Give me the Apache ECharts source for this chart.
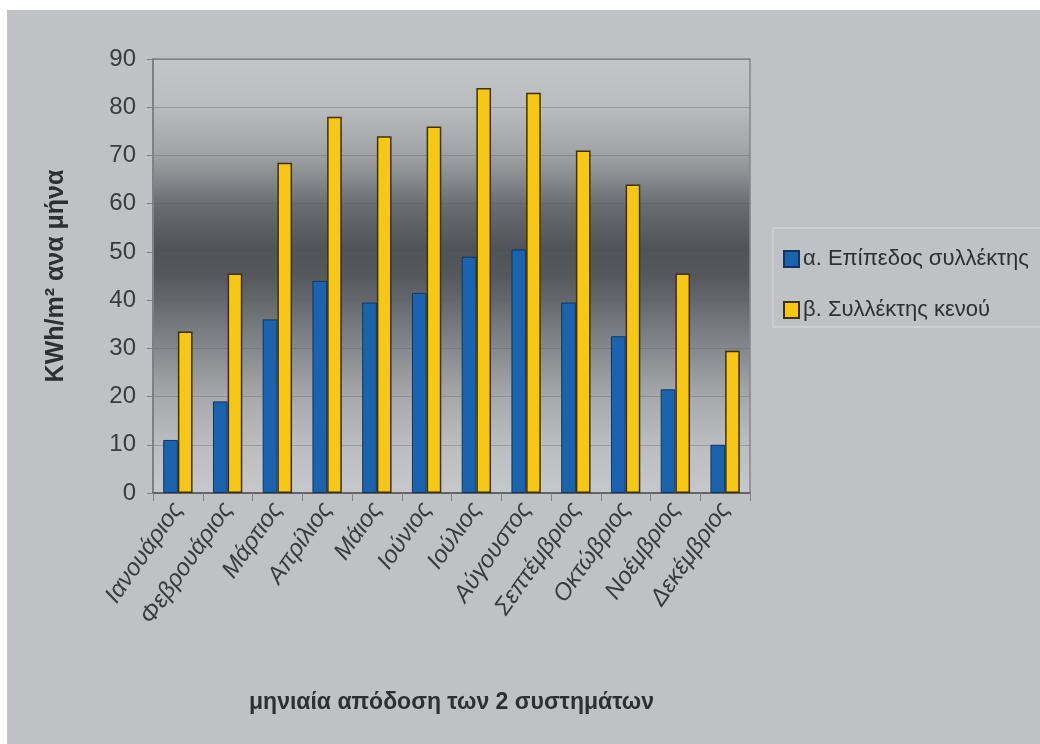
<!DOCTYPE html>
<html>
<head>
<meta charset="utf-8">
<script src="https://cdn.jsdelivr.net/npm/echarts@6/dist/echarts.min.js"></script>
<style>
  html, body { margin: 0; padding: 0; background: #fff; }
  #chart { width: 1040px; height: 744px; }
</style>
</head>
<body>
<div id="chart"></div>
<script>
// μήνες
const months = ['Ιανουάριος', 'Φεβρουάριος', 'Μάρτιος', 'Απρίλιος', 'Μάιος', 'Ιούνιος',
  'Ιούλιος', 'Αύγουστος', 'Σεπτέμβριος', 'Οκτώβριος', 'Νοέμβριος', 'Δεκέμβριος'];
const seriesNames = ['α. Επίπεδος συλλέκτης', 'β. Συλλέκτης κενού'];
// kWh/m2 ανα μήνα
const flatValues = [11, 19, 36, 44, 39.5, 41.5, 49, 50.5, 39.5, 32.5, 21.5, 10];
const vacuumValues = [33.5, 45.5, 68.5, 78, 74, 76, 84, 83, 71, 64, 45.5, 29.5];
const yTicks = [0, 10, 20, 30, 40, 50, 60, 70, 80, 90];

const font = "'Liberation Sans', Arial, sans-serif";
const textColor = '#2e2f33';

const chart = echarts.init(document.getElementById('chart'), null, { renderer: 'canvas' });

const option = {
  backgroundColor: '#ffffff',
  animation: false,
  graphic: [
    // γκρι φόντο
    { type: 'rect', z: -10, shape: { x: 7, y: 10, width: 1040, height: 740 }, style: { fill: '#c0c1c5' } },
    // πλαίσιο υπομνήματος
    { type: 'rect', z: -5, shape: { x: 773, y: 228, width: 300, height: 99 },
      style: { fill: 'none', stroke: '#d9dade', lineWidth: 1 } }
  ],
  grid: {
    left: 153, right: 290, top: 59, bottom: 251,
    show: true,
    borderColor: '#84878c',
    borderWidth: 1.5,
    backgroundColor: {
      type: 'linear', x: 0, y: 0, x2: 0, y2: 1,
      colorStops: [
        { offset: 0, color: '#c4c5c9' },
        { offset: 0.11, color: '#bbbcc0' },
        { offset: 0.22, color: '#a0a2a6' },
        { offset: 0.28, color: '#85888c' },
        { offset: 0.34, color: '#686b6f' },
        { offset: 0.44, color: '#505458' },
        { offset: 0.5, color: '#55595d' },
        { offset: 0.56, color: '#65686c' },
        { offset: 0.67, color: '#86898d' },
        { offset: 0.78, color: '#a7a9ad' },
        { offset: 0.89, color: '#bcbdc1' },
        { offset: 1, color: '#c7c8cc' }
      ]
    }
  },
  legend: {
    orient: 'vertical',
    left: 778,
    top: 243,
    itemWidth: 15,
    itemHeight: 16,
    itemGap: 29,
    icon: 'rect',
    textStyle: { fontFamily: font, fontSize: 22, color: textColor, padding: [0, 0, 0, -1] },
    data: seriesNames
  },
  xAxis: {
    type: 'category',
    data: months,
    boundaryGap: true,
    axisLine: { lineStyle: { color: '#55585c', width: 1.5 } },
    axisTick: { show: true, alignWithLabel: false, length: 8, lineStyle: { color: '#7d8085' } },
    axisLabel: {
      interval: 0,
      rotate: 55,
      margin: 12,
      fontFamily: font,
      fontStyle: 'italic',
      fontSize: 24,
      color: '#3a3b3f'
    },
    name: 'μηνιαία απόδοση των 2 συστημάτων',
    nameLocation: 'middle',
    nameGap: 198,
    nameTextStyle: { fontFamily: font, fontSize: 23, fontWeight: 'bold', color: textColor }
  },
  yAxis: {
    type: 'value',
    min: yTicks[0],
    max: yTicks[yTicks.length - 1],
    interval: 10,
    axisLine: { show: true, lineStyle: { color: '#7d8085', width: 2 } },
    axisTick: { show: true, length: 6, lineStyle: { color: '#7d8085' } },
    splitLine: { show: true, lineStyle: { color: '#5c5f64', width: 1, opacity: 0.35 } },
    axisLabel: {
      margin: 17,
      fontFamily: font,
      fontSize: 24,
      color: '#3a3b3f'
    },
    name: 'KWh/m² ανα μήνα',
    nameLocation: 'middle',
    nameGap: 84,
    nameRotate: 90,
    nameTextStyle: { fontFamily: font, fontSize: 25, fontWeight: 'bold', fontStyle: 'normal', color: textColor }
  },
  series: [
    {
      name: seriesNames[0],
      type: 'bar',
      data: flatValues,
      barGap: '0%',
      barCategoryGap: '41%',
      itemStyle: { color: '#1b63ad', borderColor: '#10365f', borderWidth: 1 }
    },
    {
      name: seriesNames[1],
      type: 'bar',
      data: vacuumValues,
      itemStyle: { color: '#f7c718', borderColor: '#3f3200', borderWidth: 1.5 }
    }
  ]
};

chart.setOption(option);
</script>
</body>
</html>
